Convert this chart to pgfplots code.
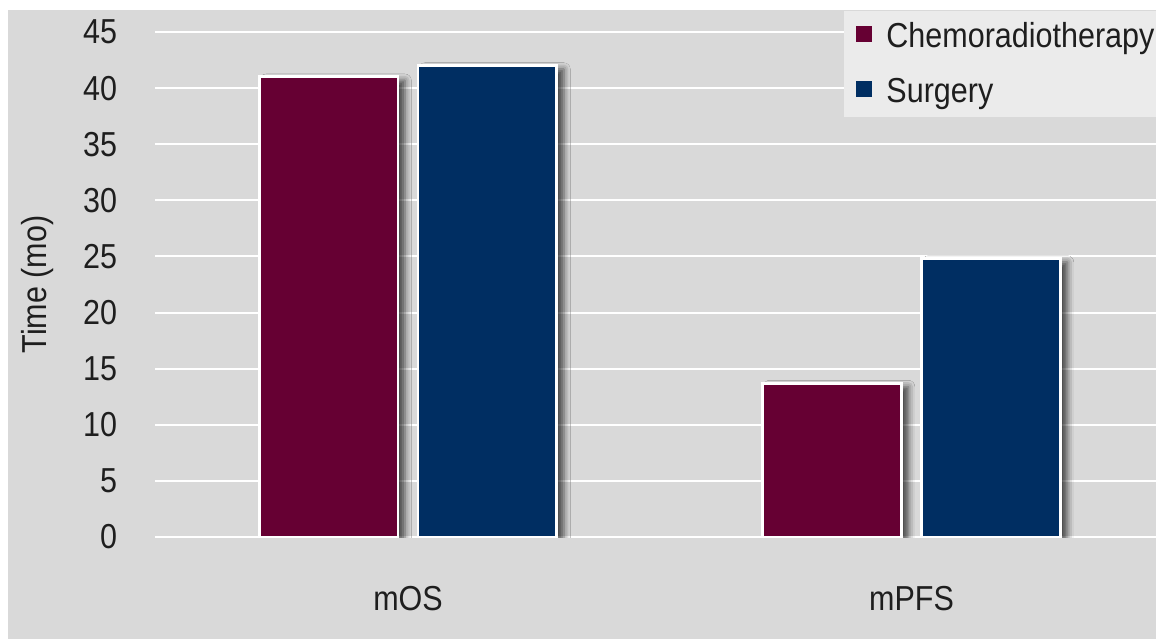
\documentclass[border=0pt]{standalone}
\usepackage{pgfplots}
\pgfplotsset{compat=1.18}
\usepackage{fontspec}
\setmainfont{Liberation Sans}[FakeStretch=0.88]
\usetikzlibrary{shadows.blur}

\definecolor{chemo}{HTML}{660033}
\definecolor{surg}{HTML}{002E62}
\definecolor{panel}{HTML}{D9D9D9}
\definecolor{legbg}{HTML}{EBEBEB}
\definecolor{txt}{HTML}{1E1E1E}

\pgfplotsset{
  barshadow/.style={blur shadow={shadow xshift=2.6pt, shadow yshift=-1.3pt,
      shadow blur radius=2.4pt, shadow opacity=68}},
}

\begin{document}
\begin{tikzpicture}
% page extent and grey panel behind the chart
\useasboundingbox (-58.125pt,-38.25pt) rectangle (375.375pt,201.375pt);
\fill[panel] (-55.125pt,-38.25pt) rectangle (375.375pt,197.625pt);
\begin{axis}[
  at={(0pt,0pt)}, anchor=south west,
  scale only axis,
  width=375.375pt, height=189.375pt,
  xmin=-0.5025, xmax=1.4856,
  ymin=0, ymax=45,
  ytick={0,5,...,45},
  xtick={0,1},
  xticklabels={mOS,mPFS},
  axis line style={draw=none},
  major tick length=0pt,
  ymajorgrids,
  grid style={white, line width=0.75pt},
  axis background/.style={fill=none},
  /pgf/number format/assume math mode=true,
  font=\fontsize{13}{15}\selectfont,
  tick label style={text=txt},
  yticklabel style={anchor=east, xshift=-10.7pt},
  xticklabel style={anchor=base, yshift=-27.4pt},
  ylabel={Time (mo)},
  ylabel style={at={(axis description cs:-0.117,0.5)}, anchor=center, text=txt},
  ybar=0pt,
  bar width=52.1pt,
  legend cell align=left,
  legend style={
    at={(0.6873,1.0436)}, anchor=north west,
    fill=legbg, draw=none,
    inner xsep=4.5pt, inner ysep=4.6pt,
    row sep=10.25pt,
    column sep=5.6pt,
    font=\fontsize{13}{15}\selectfont,
    text=txt,
    nodes={inner sep=0pt, text height=9.4pt, text depth=0.9pt},
  },
]
% legend keys: plain squares, no shadow
\addlegendimage{legend image code/.code={\fill[chemo] (0pt,-1.9pt) rectangle (5.6pt,3.7pt);}}
\addlegendentry{Chemoradiotherapy}
\addlegendimage{legend image code/.code={\fill[surg] (0pt,-1.9pt) rectangle (5.6pt,3.7pt);}}
\addlegendentry{Surgery}

\addplot[fill=chemo, draw=white, line width=1.1pt, bar shift=-29.8pt, barshadow, forget plot]
  coordinates {(0,41) (1,13.7)};
\addplot[fill=surg, draw=white, line width=1.1pt, bar shift=29.8pt, barshadow, forget plot]
  coordinates {(0,42) (1,24.8)};
\end{axis}
\end{tikzpicture}
\end{document}
